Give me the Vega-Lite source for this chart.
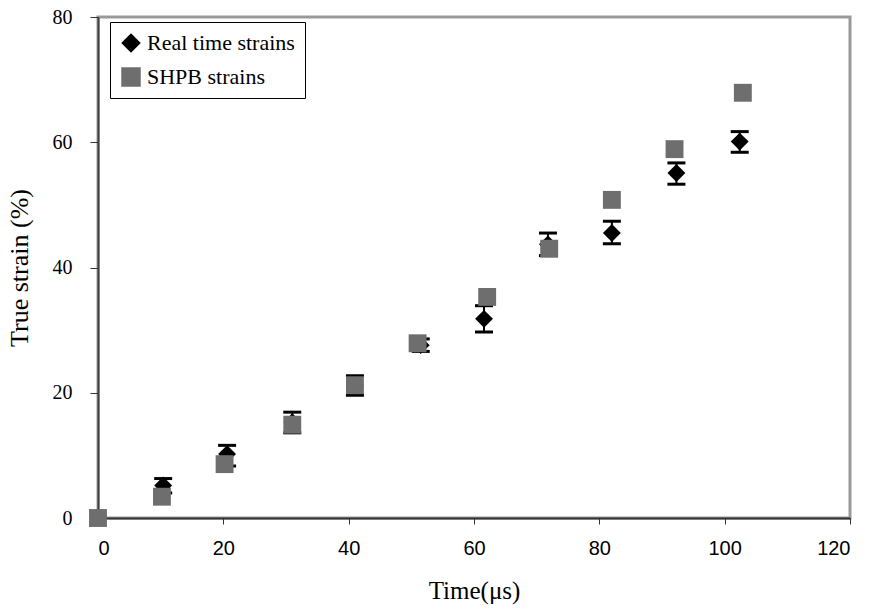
{
  "$schema": "https://vega.github.io/schema/vega-lite/v6.json",
  "autosize": "none",
  "width": 752,
  "height": 501,
  "padding": {"left": 98, "top": 17, "right": 19, "bottom": 90},
  "background": "white",
  "config": {
    "view": {"stroke": "#999999", "strokeWidth": 3},
    "axis": {"grid": false}
  },
  "datasets": {
    "pts": [
      {"series": "Real time strains", "t": 0, "strain": 0},
      {"series": "Real time strains", "t": 10.4, "strain": 5.2},
      {"series": "Real time strains", "t": 20.6, "strain": 10.2},
      {"series": "Real time strains", "t": 31.0, "strain": 15.3},
      {"series": "Real time strains", "t": 41.0, "strain": 21.1},
      {"series": "Real time strains", "t": 51.5, "strain": 27.6},
      {"series": "Real time strains", "t": 61.6, "strain": 31.8},
      {"series": "Real time strains", "t": 71.8, "strain": 43.7},
      {"series": "Real time strains", "t": 82.0, "strain": 45.5},
      {"series": "Real time strains", "t": 92.3, "strain": 55.1},
      {"series": "Real time strains", "t": 102.4, "strain": 60.1},
      {"series": "SHPB strains", "t": 0, "strain": 0},
      {"series": "SHPB strains", "t": 10.2, "strain": 3.4},
      {"series": "SHPB strains", "t": 20.2, "strain": 8.6},
      {"series": "SHPB strains", "t": 31.0, "strain": 14.9},
      {"series": "SHPB strains", "t": 41.0, "strain": 21.2},
      {"series": "SHPB strains", "t": 51.0, "strain": 27.9},
      {"series": "SHPB strains", "t": 62.1, "strain": 35.3},
      {"series": "SHPB strains", "t": 72.0, "strain": 43.0},
      {"series": "SHPB strains", "t": 82.0, "strain": 50.8},
      {"series": "SHPB strains", "t": 92.0, "strain": 58.9},
      {"series": "SHPB strains", "t": 102.9, "strain": 67.9}
    ],
    "err": [
      {"t": 10.4, "lo": 4.0, "hi": 6.3},
      {"t": 20.6, "lo": 8.3, "hi": 11.6},
      {"t": 31.0, "lo": 13.6, "hi": 16.9},
      {"t": 41.0, "lo": 19.6, "hi": 22.7},
      {"t": 51.5, "lo": 26.6, "hi": 28.6},
      {"t": 61.6, "lo": 29.7, "hi": 33.9},
      {"t": 71.8, "lo": 41.9, "hi": 45.5},
      {"t": 82.0, "lo": 43.8, "hi": 47.4},
      {"t": 92.3, "lo": 53.3, "hi": 56.7},
      {"t": 102.4, "lo": 58.4, "hi": 61.7}
    ]
  },
  "layer": [
    {
      "data": {"name": "err"},
      "mark": {"type": "rule", "color": "black", "strokeWidth": 2},
      "encoding": {
        "x": {"field": "t", "type": "quantitative", "scale": {"domain": [0, 120]}},
        "y": {"field": "lo", "type": "quantitative", "scale": {"domain": [0, 80]}},
        "y2": {"field": "hi"}
      }
    },
    {
      "data": {"name": "err"},
      "mark": {"type": "tick", "orient": "horizontal", "color": "black", "size": 18, "thickness": 3, "opacity": 1},
      "encoding": {
        "x": {"field": "t", "type": "quantitative"},
        "y": {"field": "lo", "type": "quantitative"}
      }
    },
    {
      "data": {"name": "err"},
      "mark": {"type": "tick", "orient": "horizontal", "color": "black", "size": 18, "thickness": 3, "opacity": 1},
      "encoding": {
        "x": {"field": "t", "type": "quantitative"},
        "y": {"field": "hi", "type": "quantitative"}
      }
    },
    {
      "data": {"name": "pts"},
      "mark": {"type": "point", "filled": true, "opacity": 1, "size": 320, "strokeWidth": 0},
      "encoding": {
        "x": {
          "field": "t", "type": "quantitative",
          "scale": {"domain": [0, 120], "nice": false},
          "axis": {
            "values": [0, 20, 40, 60, 80, 100, 120],
            "title": "Time(μs)",
            "titleFont": "Liberation Serif", "titleFontSize": 25, "titleFontWeight": "normal",
            "titleColor": "black", "titlePadding": 20, "titleLetterSpacing": 4,
            "labelFont": "Liberation Sans", "labelFontSize": 20, "labelColor": "black", "labelPadding": 14,
            "domainColor": "#333333", "domainWidth": 2,
            "tickColor": "#333333", "tickSize": 6, "tickWidth": 1
          }
        },
        "y": {
          "field": "strain", "type": "quantitative",
          "scale": {"domain": [0, 80], "nice": false},
          "axis": {
            "values": [0, 20, 40, 60, 80],
            "title": "True strain (%)",
            "titleFont": "Liberation Serif", "titleFontSize": 26, "titleFontWeight": "normal",
            "titleColor": "black", "titlePadding": 20,
            "labelFont": "Liberation Serif", "labelFontSize": 20, "labelColor": "black", "labelPadding": 18,
            "domainColor": "#404040", "domainWidth": 2,
            "tickColor": "#333333", "tickSize": 8, "tickWidth": 1
          }
        },
        "color": {
          "field": "series", "type": "nominal",
          "scale": {"domain": ["Real time strains", "SHPB strains"], "range": ["#000000", "#6e6e6e"]},
          "legend": {
            "title": null, "orient": "none", "legendX": 12, "legendY": 5,
            "direction": "vertical",
            "labelFont": "Liberation Serif", "labelFontSize": 22, "labelColor": "black",
            "symbolSize": 380, "symbolStrokeWidth": 0, "symbolOpacity": 1,
            "rowPadding": 12, "padding": 10, "labelOffset": 5, "labelLimit": 400,
            "strokeColor": "black", "fillColor": "white"
          }
        },
        "shape": {
          "field": "series", "type": "nominal",
          "scale": {"domain": ["Real time strains", "SHPB strains"], "range": ["diamond", "square"]}
        }
      }
    }
  ]
}
